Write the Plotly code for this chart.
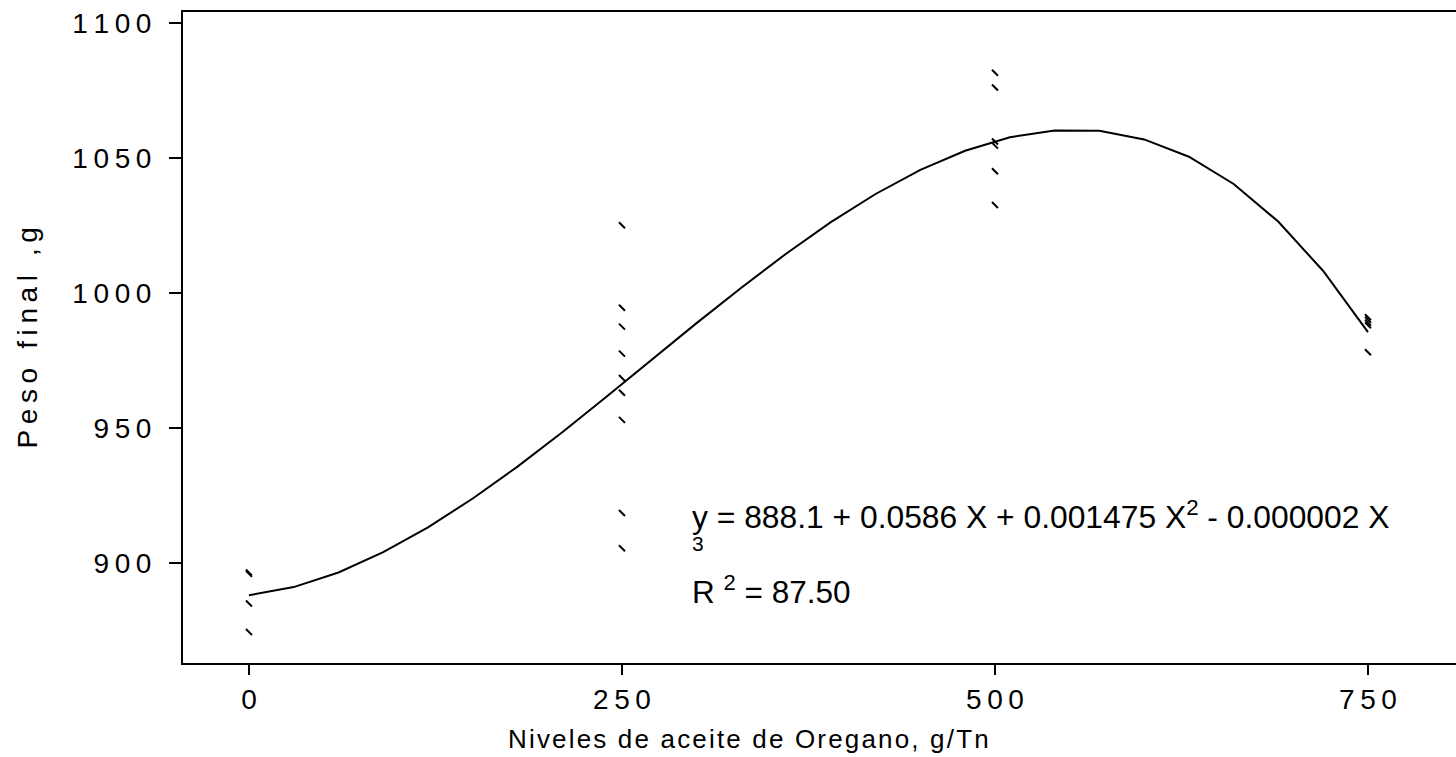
import plotly.graph_objects as go

# Observed final weights (g) at each oregano-oil level (g/Tn)
nivel_0 = [896.5, 896.0, 885.0, 874.5]
nivel_250 = [1025.0, 994.5, 987.5, 977.5, 968.5, 963.0, 953.0, 918.5, 905.5]
nivel_500 = [1081.5, 1076.0, 1056.0, 1054.5, 1045.0, 1032.5]
nivel_750 = [991.0, 990.0, 989.0, 988.0, 978.0]

# Fitted cubic response, sampled every 30 g/Tn
curva_x = [0, 30, 60, 90, 120, 150, 180, 210, 240, 270, 300, 330, 360,
           390, 420, 450, 480, 510, 540, 570, 600, 630, 660, 690, 720, 750]
curva_y = [888.1, 891.1, 896.5, 904.0, 913.2, 923.9, 935.7, 948.4, 961.7,
           975.2, 988.8, 1001.9, 1014.5, 1026.2, 1036.6, 1045.5, 1052.6,
           1057.6, 1060.1, 1060.0, 1056.8, 1050.4, 1040.3, 1026.3, 1008.1,
           985.5]

x_ticks = [0, 250, 500, 750]
y_ticks = [900, 950, 1000, 1050, 1100]

FONT = "Liberation Sans, Arial, sans-serif"
THIN = "\u2009"
HAIR = "\u200a"


def spaced(text, gap):
    return gap.join(list(text))


px, py = [], []
for lvl, vals in zip(x_ticks, [nivel_0, nivel_250, nivel_500, nivel_750]):
    px += [lvl] * len(vals)
    py += vals

fig = go.Figure()
fig.add_trace(go.Scatter(
    x=curva_x, y=curva_y, mode="lines",
    line=dict(color="black", width=2), showlegend=False, hoverinfo="skip"))
fig.add_trace(go.Scatter(
    x=px, y=py, mode="markers",
    marker=dict(symbol="line-nw", size=6, color="black",
                line=dict(color="black", width=2)),
    showlegend=False))

fig.update_xaxes(
    range=[-44.2, 809], tickvals=x_ticks,
    ticktext=[spaced(str(v), THIN) for v in x_ticks],
    ticks="outside", ticklen=10, tickwidth=2, tickcolor="black",
    showline=True, linecolor="black", linewidth=2, mirror=True,
    showgrid=False, zeroline=False, ticklabelstandoff=0,
    tickfont=dict(family=FONT, size=28, color="black"))
fig.update_yaxes(
    range=[863.0, 1103.96], tickvals=y_ticks,
    ticktext=[spaced(str(v), THIN) for v in y_ticks],
    ticks="outside", ticklen=12, tickwidth=2, tickcolor="black",
    showline=True, linecolor="black", linewidth=2,
    showgrid=False, zeroline=False, ticklabelstandoff=12,
    tickfont=dict(family=FONT, size=28, color="black"))

annotations = [
    dict(x=295.6, y=917.7, xref="x", yref="y", xanchor="left",
         yanchor="middle", showarrow=False,
         text="y = 888.1 + 0.0586 X + 0.001475 X<sup>2</sup> - 0.000002 X",
         font=dict(family=FONT, size=31.8, color="black")),
    dict(x=295.6, y=907.2, xref="x", yref="y", xanchor="left",
         yanchor="middle", showarrow=False, text="3",
         font=dict(family=FONT, size=21, color="black")),
    dict(x=295.6, y=889.9, xref="x", yref="y", xanchor="left",
         yanchor="middle", showarrow=False,
         text="R <sup>2</sup> = 87.50",
         font=dict(family=FONT, size=31.5, color="black")),
    dict(x=335, y=-0.117, xref="x", yref="paper", xanchor="center",
         yanchor="middle", showarrow=False,
         text=spaced("Niveles de aceite de Oregano, g/Tn", HAIR),
         font=dict(family=FONT, size=26, color="black")),
    dict(x=-0.1218, y=0.5, xref="paper", yref="paper", xanchor="center",
         yanchor="middle", showarrow=False, textangle=-90,
         text=spaced("Peso final ,g", THIN),
         font=dict(family=FONT, size=28, color="black")),
]

fig.update_layout(
    width=1456, height=757,
    margin=dict(l=183, r=0, t=12, b=94),
    paper_bgcolor="white", plot_bgcolor="white",
    annotations=annotations)

fig.write_html("out.html")
